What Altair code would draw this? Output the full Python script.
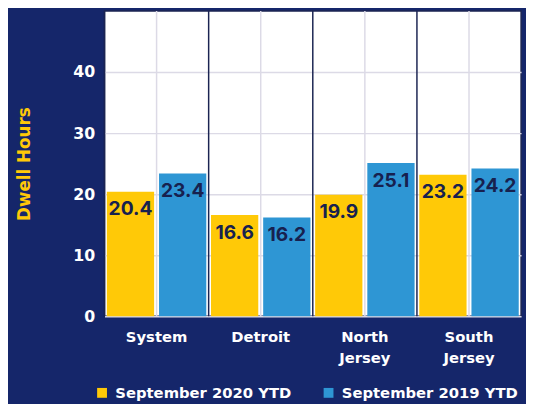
import altair as alt
import pandas as pd

regions = ["System", "Detroit", "North Jersey", "South Jersey"]
series = ["September 2020 YTD", "September 2019 YTD"]
values_2020 = [20.4, 16.6, 19.9, 23.2]
values_2019 = [23.4, 16.2, 25.1, 24.2]
y_ticks = [0, 10, 20, 30, 40]

rows = []
for r, a, b in zip(regions, values_2020, values_2019):
    rows.append({"region": r, "series": series[0], "value": a})
    rows.append({"region": r, "series": series[1], "value": b})
df = pd.DataFrame(rows)
reg_df = pd.DataFrame({"region": regions})

YELLOW = "#FFC907"
BLUE = "#2E96D4"
NAVY_TEXT = "#17214F"
DARK_LINE = "#1B2452"
GRID = "#DCDAE6"
FONT = "DejaVu Sans"
NUM_FONT = "Inter"

x_scale = alt.Scale(domain=regions, paddingInner=0, paddingOuter=0)

x_enc = alt.X(
    "region:N",
    scale=x_scale,
    sort=regions,
    axis=alt.Axis(
        title=None, labelAngle=0, labelColor="white", labelFont=FONT,
        labelFontSize=15, labelFontWeight="bold", ticks=False, domain=False,
        grid=False, labelPadding=14, labelExpr="split(datum.label, ' ')",
        labelLineHeight=21, labelBaseline="top", labelAlign="center",
        bandPosition=0.5,
    ),
)
y_enc = alt.Y(
    "value:Q",
    scale=alt.Scale(domain=[0, 50], nice=False),
    axis=alt.Axis(
        title="Dwell Hours", titleColor=YELLOW, titleFont=FONT, titleFontSize=17,
        titleFontWeight="bold", titlePadding=40, values=y_ticks,
        labelColor="white", labelFont=FONT, labelFontSize=16, labelFontWeight="bold",
        ticks=False, domain=False, grid=True, gridColor=GRID, gridWidth=1.5,
        labelPadding=10,
    ),
)
xoff = alt.XOffset("series:N", sort=series,
                   scale=alt.Scale(domain=series, paddingInner=0.094, paddingOuter=0.045))
color = alt.Color(
    "series:N", sort=series,
    scale=alt.Scale(domain=series, range=[YELLOW, BLUE]),
    legend=alt.Legend(
        title=None, orient="none", direction="horizontal", legendX=-10, legendY=380,
        symbolType="square", symbolSize=100, symbolStrokeWidth=0, symbolOpacity=1,
        labelColor="white", labelFont=FONT, labelFontSize=15, labelFontWeight="bold",
        labelLimit=400, columnPadding=30, symbolOffset=0, labelOffset=6,
    ),
)

center_rules = alt.Chart(reg_df).mark_rule(color=GRID, strokeWidth=1.5).encode(
    x=alt.X("region:N", scale=x_scale, sort=regions)
)
edge_rules = alt.Chart(reg_df).mark_rule(color=DARK_LINE, strokeWidth=1.5).encode(
    x=alt.X("region:N", scale=x_scale, sort=regions, bandPosition=0)
)
bars = alt.Chart(df).mark_bar().encode(x=x_enc, xOffset=xoff, y=y_enc, color=color)
labels = alt.Chart(df).mark_text(
    baseline="top", dy=9, font=NUM_FONT, fontSize=19.5, fontWeight="bold", color=NAVY_TEXT
).encode(
    x=alt.X("region:N", scale=x_scale, sort=regions),
    xOffset=xoff,
    y=alt.Y("value:Q"),
    text=alt.Text("value:Q", format=".1f"),
)

chart = alt.layer(center_rules, bars, edge_rules, labels).properties(
    width=423, height=310,
    autosize=alt.AutoSizeParams(type="none"),
    padding={"left": 98, "top": 0, "right": 5, "bottom": 86},
    background="#15266A",
).configure_view(
    fill="white", stroke=DARK_LINE, strokeWidth=1.5
)

chart.save("out.html", embed_options={"renderer": "svg", "actions": False})
